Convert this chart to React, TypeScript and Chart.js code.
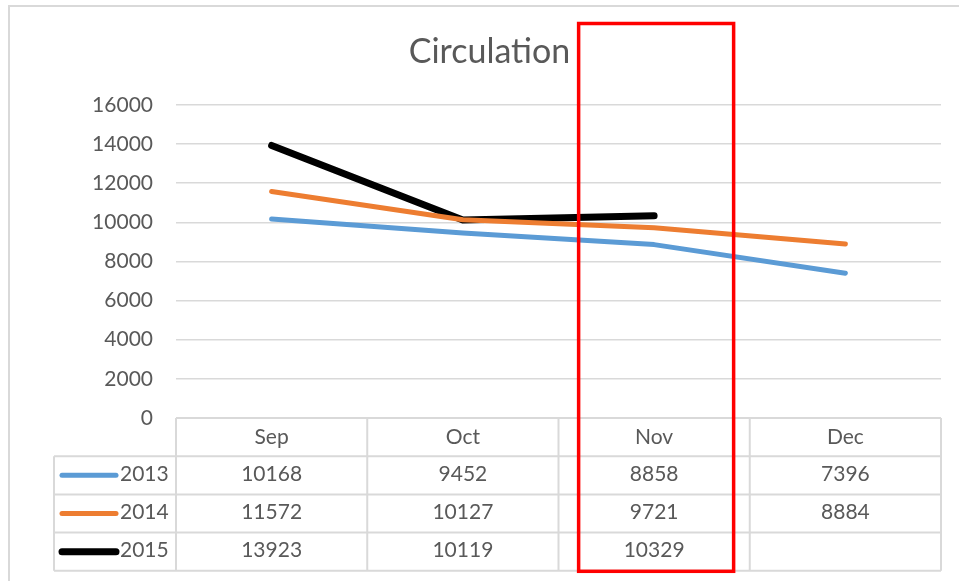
import React, { useEffect, useRef } from "react";
import { Chart, registerables } from "chart.js";

Chart.register(...registerables);

const categories = ["Sep", "Oct", "Nov", "Dec"];
const seriesNames = ["2013", "2014", "2015"];
const values2013 = [10168, 9452, 8858, 7396];
const values2014 = [11572, 10127, 9721, 8884];
const values2015: (number | null)[] = [13923, 10119, 10329, null];
const seriesColors = ["#5B9BD5", "#ED7D31", "#000000"];
const seriesWidths = [5, 5, 7];
const yTicks = [0, 2000, 4000, 6000, 8000, 10000, 12000, 14000, 16000];
const highlightCategory = "Nov";
const titleText = "Circulation";

const FONT = "Lato, 'Open Sans', sans-serif";
const TEXT = "#595959";
const GRID = "#d9d9d9";

const tablePlugin = {
  id: "dataTable",
  beforeDraw(chart: any) {
    const ctx = chart.ctx;
    ctx.save();
    ctx.strokeStyle = GRID;
    ctx.lineWidth = 2;
    ctx.strokeRect(9, 6, chart.width + 20, chart.height + 20);
    ctx.restore();
  },
  afterDraw(chart: any) {
    const ctx = chart.ctx;
    const area = chart.chartArea;
    const xs = chart.scales.x;
    const colW = (area.right - area.left) / categories.length;
    const rowH = 38.2;
    const top = area.bottom;
    const legendLeft = area.left - 122;
    const rows = [values2013, values2014, values2015];
    const bottom = top + rowH * (rows.length + 1);

    ctx.save();
    // title, centred on the outer frame
    const tb = chart.titleBlock;
    ctx.fillStyle = TEXT;
    ctx.font = `34px ${FONT}`;
    ctx.textAlign = "center";
    ctx.textBaseline = "middle";
    ctx.fillText(titleText, (chart.width + 20) / 2, (tb.top + tb.bottom) / 2);

    ctx.strokeStyle = GRID;
    ctx.lineWidth = 2;
    ctx.beginPath();
    ctx.moveTo(area.left, top);
    ctx.lineTo(area.right, top);
    for (let r = 1; r <= rows.length + 1; r++) {
      const y = top + rowH * r;
      ctx.moveTo(legendLeft, y);
      ctx.lineTo(area.right, y);
    }
    ctx.moveTo(legendLeft, top + rowH);
    ctx.lineTo(legendLeft, bottom);
    for (let c = 0; c <= categories.length; c++) {
      const x = area.left + colW * c;
      ctx.moveTo(x, top);
      ctx.lineTo(x, bottom);
    }
    ctx.stroke();

    ctx.fillStyle = TEXT;
    ctx.font = `21px ${FONT}`;
    ctx.textAlign = "center";
    ctx.textBaseline = "middle";
    categories.forEach((cat, i) => {
      const cx = xs.getPixelForValue(i);
      ctx.fillText(cat, cx, top + rowH / 2);
    });
    rows.forEach((vals, r) => {
      const cy = top + rowH * (r + 1) + rowH / 2 - 1;
      vals.forEach((v, i) => {
        if (v === null || v === undefined) return;
        ctx.fillText(String(v), xs.getPixelForValue(i), cy);
      });
      ctx.strokeStyle = seriesColors[r];
      ctx.lineWidth = seriesWidths[r];
      ctx.lineCap = "round";
      ctx.beginPath();
      ctx.moveTo(legendLeft + 8, cy + 1);
      ctx.lineTo(legendLeft + 62, cy + 1);
      ctx.stroke();
      ctx.textAlign = "left";
      ctx.fillText(seriesNames[r], legendLeft + 66, cy);
      ctx.textAlign = "center";
    });

    const hi = categories.indexOf(highlightCategory);
    const hx = xs.getPixelForValue(hi) + 2;
    ctx.strokeStyle = "#ff0000";
    ctx.lineWidth = 3.5;
    ctx.strokeRect(hx - 77.5, 23.5, 155, bottom - 23.5 + 0.5);
    ctx.restore();
  },
};

export default function App() {
  const ref = useRef<HTMLCanvasElement>(null);
  useEffect(() => {
    if (!ref.current) return;
    const datasets = [values2013, values2014, values2015].map((d, i) => ({
      label: seriesNames[i],
      data: d,
      borderColor: seriesColors[i],
      backgroundColor: seriesColors[i],
      borderWidth: seriesWidths[i],
      borderCapStyle: "round" as const,
      borderJoinStyle: "round" as const,
      pointRadius: 0,
      pointHoverRadius: 0,
      tension: 0,
      fill: false,
    }));
    const chart = new Chart(ref.current, {
      type: "line",
      data: { labels: categories, datasets },
      options: {
        animation: false,
        responsive: false,
        layout: { padding: { left: 0, right: 18, top: 0, bottom: 163 } },
        plugins: {
          legend: { display: false },
          tooltip: { enabled: false },
          title: {
            display: true,
            text: titleText,
            color: "rgba(0,0,0,0)",
            font: { family: FONT, size: 34, weight: "normal" },
            padding: { top: 32, bottom: 32 },
          },
        },
        scales: {
          x: { display: false, offset: true },
          y: {
            min: 0,
            max: 16000,
            afterBuildTicks: (scale: any) => {
              scale.ticks = yTicks.map((v) => ({ value: v }));
            },
            afterFit: (scale: any) => {
              scale.width = 176;
            },
            border: { display: false },
            grid: { color: GRID, lineWidth: 1.5, drawTicks: false },
            ticks: {
              color: TEXT,
              padding: 23,
              font: { family: FONT, size: 21 },
              callback: (v: any) => String(v),
            },
          },
        },
      },
      plugins: [tablePlugin],
    });
    return () => chart.destroy();
  }, []);
  return (
    <div style={{ position: "fixed", left: 0, top: 0, width: 959, height: 581, background: "#fff" }}>
      <canvas ref={ref} width={959} height={581} style={{ width: 959, height: 581 }} />
    </div>
  );
}
